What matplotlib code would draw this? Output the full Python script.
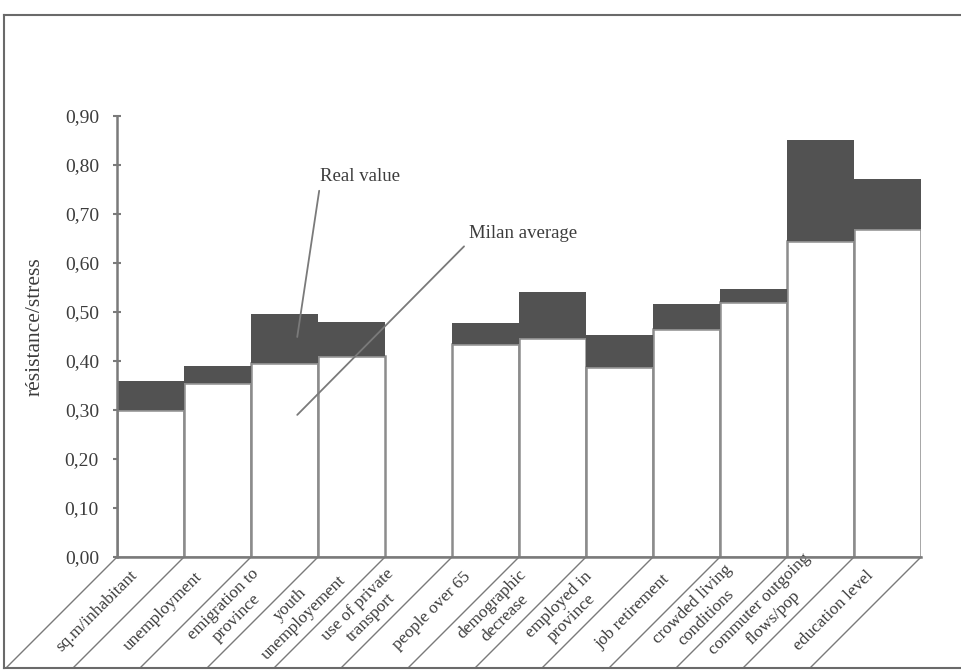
import matplotlib
matplotlib.use("Agg")
import matplotlib.pyplot as plt
from matplotlib.lines import Line2D
from matplotlib.ticker import FixedLocator, FuncFormatter

categories = [
    "sq.m/inhabitant", "unemployment", "emigration to\nprovince",
    "youth\nunemployement", "use of private\ntransport", "people over 65",
    "demographic\ndecrease", "employed in\nprovince", "job retirement",
    "crowded living\nconditions", "commuter outgoing\nflows/pop", "education level",
]
milan_average = [0.30, 0.355, 0.395, 0.41, 0.0, 0.435, 0.447, 0.387, 0.465, 0.52, 0.645, 0.67]
real_value = [0.36, 0.39, 0.495, 0.48, 0.0, 0.477, 0.541, 0.453, 0.516, 0.547, 0.852, 0.771]
y_ticks = [0.0, 0.1, 0.2, 0.3, 0.4, 0.5, 0.6, 0.7, 0.8, 0.9]

FONT = "Liberation Serif"
TEXT = "#3c3c3c"
LINE = "#7a7a7a"
DARK = "#525252"

plt.rcParams["font.family"] = [FONT, "DejaVu Serif"]

W, H, DPI = 961, 672, 100
fig = plt.figure(figsize=(W / DPI, H / DPI), dpi=DPI)
ax = fig.add_axes([117 / W, 1 - 557 / H, (921 - 117) / W, (557 - 116) / H])

n = len(categories)
x = list(range(n))
ax.bar(x, milan_average, width=1.0, align="edge", color="white",
       edgecolor="#8c8c8c", linewidth=1.8, zorder=2)
diff = [r - m for r, m in zip(real_value, milan_average)]
ax.bar(x, diff, bottom=milan_average, width=1.0, align="edge", color=DARK,
       edgecolor="none", linewidth=0, zorder=3)

ax.set_xlim(0, n)
ax.set_ylim(0, 0.9)
for s in ("top", "right"):
    ax.spines[s].set_visible(False)
for s in ("left", "bottom"):
    ax.spines[s].set_color(LINE)
    ax.spines[s].set_linewidth(1.8)
    ax.spines[s].set_zorder(4)

ax.yaxis.set_major_locator(FixedLocator(y_ticks))
ax.yaxis.set_major_formatter(FuncFormatter(lambda v, p: f"{v:.2f}".replace(".", ",")))
ax.tick_params(axis="y", direction="inout", length=6, width=1.5, color=LINE,
               labelsize=14, labelcolor=TEXT, pad=10)
ax.tick_params(axis="x", bottom=False, labelbottom=False)
ax.set_ylabel("résistance/stress", fontsize=15.5, color=TEXT)
ax.yaxis.set_label_coords(-0.0896, 0.523)

# Slanted dividers under the axis, forming the category label cells
fig.canvas.draw()
to_fig = fig.transFigure.inverted()
d = 111
for i in range(n + 1):
    px, py = ax.transData.transform((i, 0))
    p0 = to_fig.transform((px, py))
    p1 = to_fig.transform((px - d, py - d))
    fig.add_artist(Line2D([p0[0], p1[0]], [p0[1], p1[1]], color=LINE, lw=1.0))

for i, lab in enumerate(categories):
    ax.annotate(lab, xy=(i + 0.5, 0), xycoords="data", xytext=(-39, -39),
                textcoords="offset points", rotation=45, rotation_mode="anchor",
                ha="center", va="center", fontsize=12.5, color=TEXT,
                linespacing=1.25, annotation_clip=False)

# Callouts
ax.annotate("Real value", xy=(2.69, 0.449), xytext=(3.03, 0.776),
            fontsize=13.5, color=TEXT, ha="left", va="center",
            arrowprops=dict(arrowstyle="-", color=LINE, lw=1.3, relpos=(0, 0),
                            shrinkA=2, shrinkB=0), zorder=5)
ax.annotate("Milan average", xy=(2.69, 0.29), xytext=(5.25, 0.661),
            fontsize=13.5, color=TEXT, ha="left", va="center",
            arrowprops=dict(arrowstyle="-", color=LINE, lw=1.3, relpos=(0, 0),
                            shrinkA=2, shrinkB=0), zorder=5)

# Outer frame
frame_kw = dict(color="#6a6a6a", lw=1.5)
fig.add_artist(Line2D([4 / W, 4 / W], [1 - 668 / H, 1 - 15 / H], **frame_kw))
fig.add_artist(Line2D([4 / W, 1.0], [1 - 15 / H, 1 - 15 / H], **frame_kw))
fig.add_artist(Line2D([4 / W, 1.0], [1 - 668 / H, 1 - 668 / H], **frame_kw))

fig.savefig("out.png", dpi=DPI)
